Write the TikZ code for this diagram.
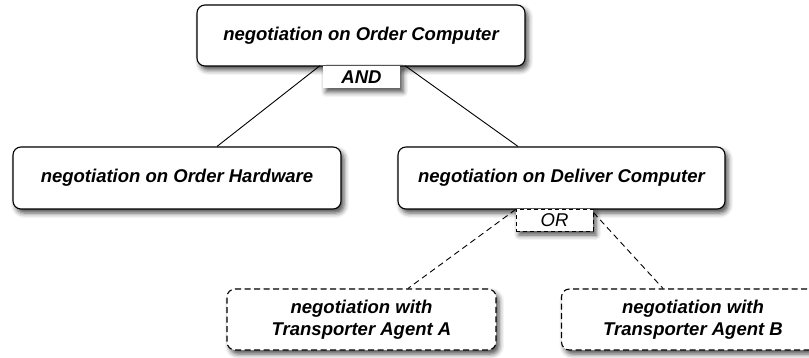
\documentclass[tikz,border=0pt]{standalone}
\usepackage{fontspec}
\setmainfont{Liberation Sans}
\usetikzlibrary{shadows.blur}

\begin{document}
\begin{tikzpicture}[
    x=1pt, y=-1pt,
    every node/.style={font=\fontsize{18.5}{22.5}\selectfont\bfseries\itshape},
    goal/.style={rectangle, rounded corners=8pt, draw, line width=1.1pt, fill=white, align=center,
        blur shadow={shadow xshift=3pt, shadow yshift=-4pt, shadow blur radius=5pt, shadow opacity=70}},
    option/.style={goal, dash pattern=on 6pt off 3.5pt},
    gate/.style={rectangle, fill=white, inner sep=0pt, minimum width=77pt, minimum height=22pt,
        blur shadow={shadow xshift=3pt, shadow yshift=-4pt, shadow blur radius=5pt, shadow opacity=70}},
    link/.style={line width=0.9pt},
    orlink/.style={link, dash pattern=on 6pt off 4pt}
]
    \useasboundingbox (0,0) rectangle (809,358);

    % Level 0: Root goal
    \node[goal, minimum width=328pt, minimum height=61pt] (orderpc) at (361,35.5) {negotiation on Order Computer};

    % Level 1: sub goals
    \node[goal, minimum width=328pt, minimum height=62pt] (orderhw) at (177,178) {negotiation on Order Hardware};
    \node[goal, minimum width=327pt, minimum height=62pt] (deliverpc) at (561.5,178) {negotiation on Deliver Computer};

    % Level 2: alternatives
    \node[option, minimum width=269pt, minimum height=61pt] (agentA) at (361.5,319.5) {negotiation with\\Transporter Agent A};
    \node[option, minimum width=263pt, minimum height=61pt] (agentB) at (693,319.5) {negotiation with\\Transporter Agent B};

    % Gate labels
    \node[gate] (andgate) at (361.5,77) {AND};
    \node[gate, draw, line width=0.9pt, dash pattern=on 4pt off 3pt, font=\fontsize{18.5}{22.5}\selectfont\itshape] (orgate) at (554.5,220) {OR};

    % Edges (AND decomposition)
    \draw[link] ([xshift=-3pt]andgate.north west) -- ([xshift=40pt]orderhw.north);
    \draw[link] ([xshift=5pt]andgate.north east) -- ([xshift=-43.5pt]deliverpc.north);

    % Edges (OR decomposition)
    \draw[orlink] ([yshift=-1pt]orgate.north west) -- ([xshift=46.5pt]agentA.north);
    \draw[orlink] ([yshift=-4pt]orgate.north east) -- ([xshift=-30pt]agentB.north);
\end{tikzpicture}
\end{document}
